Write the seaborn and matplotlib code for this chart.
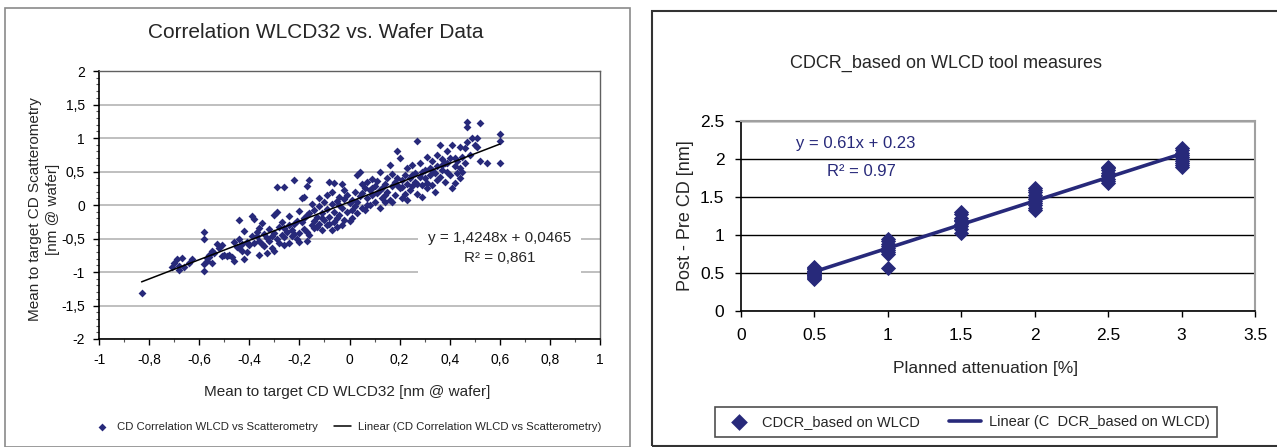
import numpy as np
import pandas as pd
import matplotlib
matplotlib.use("Agg")
import matplotlib.pyplot as plt
import seaborn as sns
from matplotlib.patches import Rectangle
from matplotlib.ticker import MultipleLocator, FuncFormatter
import warnings
warnings.filterwarnings("ignore")

# 左图数据: WLCD32 vs 散射测量
wlcd_x = [-0.83,
          -0.71, -0.70, -0.69, -0.68, -0.68, -0.67, -0.66, -0.64, -0.63,
          -0.58, -0.58, -0.58, -0.58, -0.57, -0.57, -0.56, -0.56, -0.55, -0.55, -0.54, -0.53, -0.52, -0.51, -0.51, -0.50,
          -0.49, -0.48, -0.47, -0.46, -0.45, -0.44, -0.44, -0.44, -0.43, -0.42, -0.42, -0.41, -0.40,
          -0.39, -0.38, -0.37, -0.37, -0.36, -0.36, -0.35, -0.35, -0.34, -0.34, -0.33, -0.32, -0.32, -0.31, -0.30, -0.30, -0.30,
          -0.29, -0.29, -0.28, -0.28, -0.27, -0.26, -0.26, -0.25, -0.29, -0.24, -0.24, -0.23, -0.23, -0.22, -0.22, -0.21, -0.20, -0.20, -0.26,
          -0.19, -0.19, -0.18, -0.18, -0.18, -0.17, -0.17, -0.17, -0.16, -0.16, -0.15, -0.15, -0.14, -0.14, -0.13, -0.13, -0.12, -0.12, -0.11, -0.11, -0.10, -0.10,
          -0.09, -0.09, -0.08, -0.08, -0.07, -0.07, -0.06, -0.06, -0.06, -0.05, -0.05, -0.04, -0.04, -0.03, -0.03, -0.02, -0.02, -0.01, -0.01, 0.00, 0.00,
          0.01, 0.01, 0.02, 0.02, 0.03, 0.03, 0.04, 0.04, 0.05, 0.05, 0.06, 0.06, 0.07, 0.07, 0.08, 0.08, 0.09, 0.09, 0.10, 0.10,
          0.11, 0.11, 0.12, 0.12, 0.13, 0.13, 0.14, 0.14, 0.15, 0.15, 0.16, 0.16, 0.17, 0.17, 0.18, 0.18, 0.19, 0.19, 0.20, 0.20,
          0.21, 0.21, 0.22, 0.22, 0.23, 0.23, 0.24, 0.24, 0.25, 0.25, 0.26, 0.26, 0.27, 0.27, 0.28, 0.28, 0.29, 0.29, 0.30, 0.30,
          0.31, 0.31, 0.32, 0.32, 0.33, 0.33, 0.34, 0.34, 0.35, 0.35, 0.36, 0.36, 0.37, 0.37, 0.38, 0.38, 0.39, 0.39, 0.40, 0.40,
          0.41, 0.41, 0.42, 0.42, 0.43, 0.43, 0.44, 0.44, 0.45, 0.45, 0.46, 0.47, 0.47, 0.47, 0.48, 0.49, 0.50, 0.51, 0.51,
          0.52, 0.52, 0.55, 0.60, 0.60, 0.60,
          -0.46, -0.43, -0.41, -0.39, -0.38, -0.36, -0.33, -0.31, -0.27, -0.26, -0.24, -0.22, -0.21, -0.20, -0.17, -0.16,
          -0.14, -0.12, -0.11, -0.09, -0.08, -0.07, -0.05, -0.04, -0.03, -0.02, 0.01, 0.03, 0.05, 0.07, 0.09, 0.12,
          0.14, 0.17, 0.19, 0.21, 0.23, 0.25, 0.27, 0.29, 0.31, 0.33, 0.35, 0.37, 0.39, 0.42, 0.44, 0.46]
scatt_y = [-1.31,
           -0.92, -0.87, -0.80, -0.97, -0.91, -0.79, -0.93, -0.86, -0.81,
           -0.40, -0.51, -0.98, -0.88, -0.79, -0.84, -0.74, -0.77, -0.87, -0.69, -0.72, -0.58, -0.64, -0.59, -0.76, -0.75,
           -0.76, -0.74, -0.77, -0.83, -0.63, -0.22, -0.50, -0.64, -0.69, -0.39, -0.81, -0.55, -0.60,
           -0.16, -0.21, -0.41, -0.46, -0.74, -0.53, -0.27, -0.58, -0.44, -0.61, -0.49, -0.36, -0.54, -0.64, -0.15, -0.42, -0.68,
           -0.11, -0.51, -0.33, -0.57, -0.45, -0.34, -0.60, -0.41, 0.27, -0.56, -0.16, -0.46, -0.37, 0.37, -0.28, -0.50, -0.42, -0.09, 0.27,
           -0.26, 0.10, 0.12, -0.20, -0.36, -0.53, 0.29, -0.40, 0.38, -0.12, -0.30, 0.02, -0.24, -0.07, -0.33, -0.18, -0.02, -0.28, -0.12, -0.37, -0.22, 0.05,
           -0.30, -0.06, 0.34, -0.18, 0.01, -0.38, 0.33, -0.10, -0.26, 0.06, -0.33, -0.15, 0.12, 0.32, -0.04, -0.22, 0.09, 0.15, -0.10, 0.03, -0.24,
           -0.19, 0.08, -0.02, 0.20, 0.45, -0.12, 0.13, 0.50, -0.05, 0.18, 0.26, -0.08, 0.10, 0.34, 0.00, 0.22, 0.15, 0.39, 0.05, 0.28,
           0.18, 0.36, -0.05, 0.50, 0.25, 0.10, 0.32, 0.05, 0.20, 0.41, 0.07, 0.60, 0.28, 0.47, 0.35, 0.15, 0.80, 0.40, 0.25, 0.70,
           0.10, 0.37, 0.45, 0.16, 0.31, 0.55, 0.22, 0.40, 0.60, 0.28, 0.35, 0.48, 0.95, 0.17, 0.42, 0.62, 0.30, 0.12, 0.52, 0.40,
           0.72, 0.33, 0.45, 0.55, 0.30, 0.65, 0.48, 0.20, 0.58, 0.75, 0.42, 0.90, 0.52, 0.68, 0.35, 0.62, 0.50, 0.80, 0.45, 0.70,
           0.90, 0.26, 0.58, 0.33, 0.48, 0.65, 0.86, 0.55, 0.72, 0.50, 0.85, 1.17, 1.24, 0.94, 0.75, 1.00, 0.89, 1.00, 0.86,
           1.22, 0.65, 0.62, 1.06, 0.95, 0.62,
           -0.55, -0.58, -0.70, -0.47, -0.56, -0.35, -0.72, -0.47, -0.25, -0.48, -0.30, -0.44, -0.24, -0.55, -0.15, -0.45,
           -0.35, 0.10, -0.20, 0.15, -0.28, 0.20, -0.20, 0.00, -0.30, 0.22, -0.08, 0.05, 0.32, 0.00, 0.25, 0.22,
           0.15, 0.05, 0.30, 0.27, 0.08, 0.45, 0.32, 0.50, 0.25, 0.52, 0.38, 0.60, 0.62, 0.70, 0.40, 0.62]

# 右图数据: 计划衰减 vs CD 变化
atten_x = [0.5] * 14 + [1.0] * 9 + [1.5] * 9 + [2.0] * 11 + [2.5] * 9 + [3.0] * 10
delta_cd = [0.42, 0.44, 0.45, 0.46, 0.47, 0.48, 0.49, 0.50, 0.51, 0.52, 0.53, 0.55, 0.57, 0.58,
            0.95, 0.92, 0.88, 0.85, 0.83, 0.80, 0.78, 0.75, 0.57,
            1.03, 1.08, 1.12, 1.15, 1.18, 1.20, 1.23, 1.27, 1.30,
            1.33, 1.36, 1.39, 1.42, 1.45, 1.48, 1.50, 1.53, 1.56, 1.59, 1.62,
            1.68, 1.71, 1.74, 1.77, 1.79, 1.82, 1.85, 1.88, 1.90,
            1.89, 1.92, 1.95, 1.98, 2.00, 2.02, 2.05, 2.08, 2.12, 2.15]

df_l = pd.DataFrame({'x': wlcd_x, 'y': scatt_y})
df_r = pd.DataFrame({'x': atten_x, 'y': delta_cd})

navy = '#27297a'
sns.set_style('white')
plt.rcParams['font.family'] = ['Liberation Sans', 'DejaVu Sans']

fig = plt.figure(figsize=(12.77, 4.47), dpi=100)
W, H = 1277, 447

# 面板边框
fig.add_artist(Rectangle((5 / W, 0), 625 / W, 1 - 8 / H, transform=fig.transFigure,
                         fill=False, edgecolor='#8a8a8a', lw=1.2))
fig.add_artist(Rectangle((652 / W, 1 - 446 / H), 640 / W, (446 - 11) / H, transform=fig.transFigure,
                         fill=False, edgecolor='#333333', lw=1.5))

comma = FuncFormatter(lambda v, p: ('%g' % round(v, 2)).replace('.', ','))

# 左图
ax1 = fig.add_axes([99 / W, 1 - 339 / H, 501 / W, 268 / H])
sns.scatterplot(data=df_l, x='x', y='y', ax=ax1, marker='D', s=16, color=navy,
                edgecolor=navy, linewidth=0, label='CD Correlation WLCD vs Scatterometry', zorder=3)
sns.regplot(data=df_l, x='x', y='y', ax=ax1, scatter=False, ci=None, truncate=True,
            line_kws={'color': 'black', 'lw': 1.1, 'zorder': 4},
            label='Linear (CD Correlation WLCD vs Scatterometry)')
ax1.set_xlim(-1, 1)
ax1.set_ylim(-2, 2)
ax1.xaxis.set_major_locator(MultipleLocator(0.2))
ax1.xaxis.set_minor_locator(MultipleLocator(0.1))
ax1.yaxis.set_major_locator(MultipleLocator(0.5))
ax1.yaxis.set_minor_locator(MultipleLocator(0.1))
ax1.xaxis.set_major_formatter(comma)
ax1.yaxis.set_major_formatter(comma)
ax1.grid(axis='y', color='#b4b4b4', lw=1.2)
ax1.set_axisbelow(True)
ax1.tick_params(which='major', direction='out', length=4, width=1, labelsize=10, colors='black', pad=6)
ax1.tick_params(which='minor', direction='out', length=2, width=0.8, color='#555555')
ax1.tick_params(axis='x', which='both', bottom=True)
ax1.tick_params(axis='y', which='both', left=True)
for s in ['left', 'bottom']:
    ax1.spines[s].set_color('black')
    ax1.spines[s].set_linewidth(1.2)
for s in ['top', 'right']:
    ax1.spines[s].set_color('#606060')
    ax1.spines[s].set_linewidth(1)
ax1.set_xlabel('')
ax1.set_ylabel('')
ax1.text(0.60, -0.64, 'y = 1,4248x + 0,0465\nR² = 0,861', ha='center', va='center', fontsize=11,
         linespacing=1.6, zorder=5,
         bbox=dict(facecolor='white', edgecolor='none', pad=7))
ax1.legend(loc='center', bbox_to_anchor=(347 / W, 1 - 427 / H), bbox_transform=fig.transFigure,
           ncol=2, frameon=False, fontsize=8.2, handlelength=1.5, columnspacing=1.4, handletextpad=0.6)

fig.text(316 / W, 1 - 32 / H, 'Correlation WLCD32 vs. Wafer Data', ha='center', va='center', fontsize=15)
fig.text(347 / W, 1 - 392 / H, 'Mean to target CD WLCD32 [nm @ wafer]', ha='center', va='center', fontsize=11)
fig.text(44 / W, 1 - 209 / H, 'Mean to target CD Scatterometry\n[nm @ wafer]', ha='center', va='center',
         rotation=90, fontsize=11, linespacing=1.3)

# 右图
ax2 = fig.add_axes([741 / W, 1 - 311 / H, 514 / W, 190 / H])
sns.scatterplot(data=df_r, x='x', y='y', ax=ax2, marker='D', s=60, color=navy,
                edgecolor=navy, linewidth=0, label='CDCR_based on WLCD', zorder=3)
sns.regplot(data=df_r, x='x', y='y', ax=ax2, scatter=False, ci=None, truncate=True,
            line_kws={'color': navy, 'lw': 2.6, 'zorder': 4},
            label='Linear (C  DCR_based on WLCD)')
ax2.set_xlim(0, 3.5)
ax2.set_ylim(0, 2.5)
ax2.xaxis.set_major_locator(MultipleLocator(0.5))
ax2.yaxis.set_major_locator(MultipleLocator(0.5))
ax2.xaxis.set_major_formatter(FuncFormatter(lambda v, p: '%g' % round(v, 2)))
ax2.yaxis.set_major_formatter(FuncFormatter(lambda v, p: '%g' % round(v, 2)))
ax2.grid(axis='y', color='black', lw=1)
ax2.set_axisbelow(True)
ax2.tick_params(direction='out', length=4, width=1, labelsize=12.5, colors='black', pad=8)
ax2.tick_params(axis='x', bottom=True)
ax2.tick_params(axis='y', left=True)
for s in ['left', 'bottom']:
    ax2.spines[s].set_color('black')
    ax2.spines[s].set_linewidth(1.2)
for s in ['top', 'right']:
    ax2.spines[s].set_color('#a0a0a0')
    ax2.spines[s].set_linewidth(1.5)
ax2.set_xlabel('')
ax2.set_ylabel('')
ax2.text(0.375, 2.2, 'y = 0.61x + 0.23', ha='left', va='center', fontsize=12, color=navy)
ax2.text(0.82, 1.83, 'R² = 0.97', ha='center', va='center', fontsize=12, color=navy)
leg = ax2.legend(loc='center', bbox_to_anchor=(966 / W, 1 - 422 / H), bbox_transform=fig.transFigure,
                 ncol=2, frameon=True, fancybox=False, fontsize=10.5, handlelength=2.2,
                 columnspacing=2.0, handletextpad=0.5, borderpad=0.55, borderaxespad=0, markerscale=1.1)
leg.get_frame().set_edgecolor('#222222')
leg.get_frame().set_linewidth(1.2)

fig.text(946 / W, 1 - 63 / H, 'CDCR_based on WLCD tool measures', ha='center', va='center', fontsize=13)
fig.text(986 / W, 1 - 369 / H, 'Planned attenuation [%]', ha='center', va='center', fontsize=12.5)
fig.text(685 / W, 1 - 216 / H, 'Post - Pre CD [nm]', ha='center', va='center', rotation=90, fontsize=13)

plt.savefig('out.png', dpi=100)
